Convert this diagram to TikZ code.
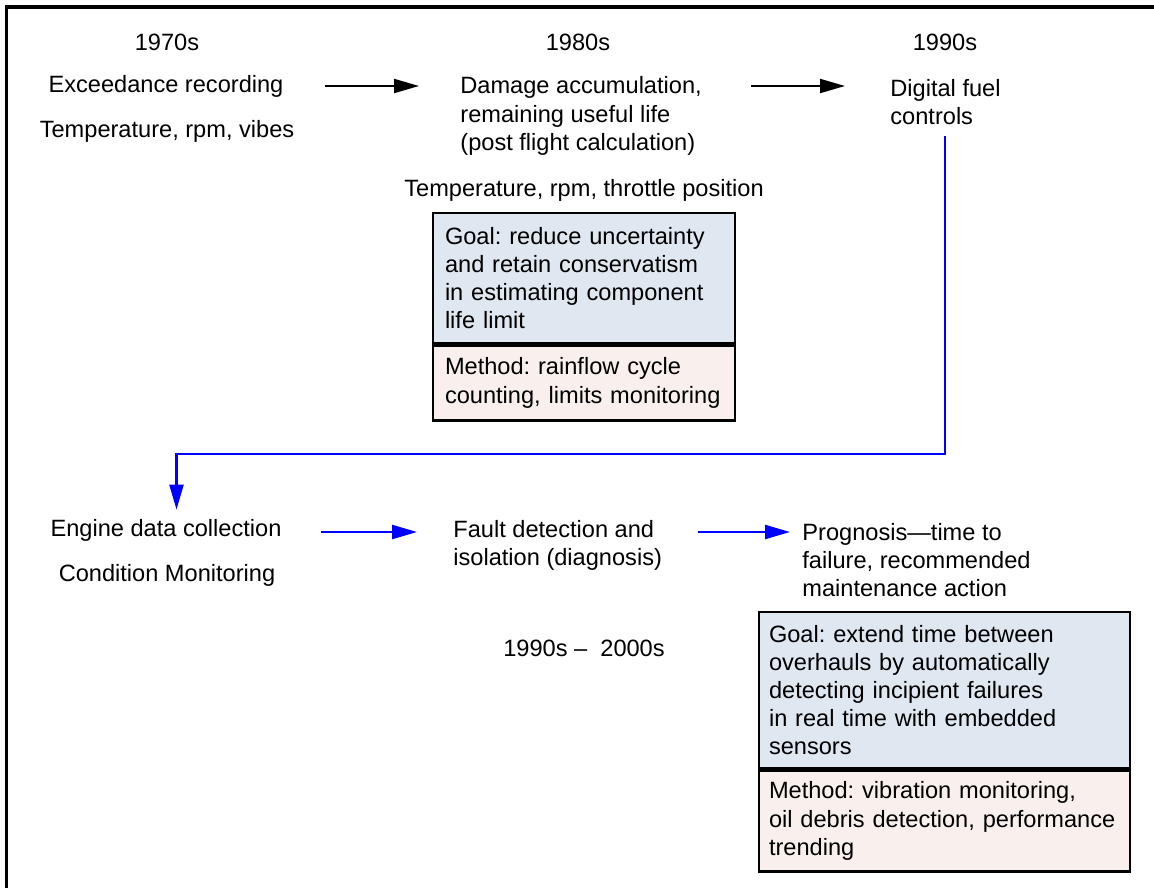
\documentclass[tikz,border=0pt]{standalone}
\usepackage{fontspec}
\setmainfont{Liberation Sans}
\usetikzlibrary{positioning,arrows.meta}
\definecolor{goalblue}{RGB}{223,231,241}
\definecolor{methpink}{RGB}{249,240,238}
\frenchspacing
\hyphenpenalty=10000

\begin{document}
\begin{tikzpicture}[x=0.5pt,y=-0.5pt,
  every node/.style={font=\fontsize{11.8}{14.1}\selectfont,inner sep=0pt},
  txt/.style={align=left,anchor=west},
  goalbox/.style={draw,line width=1.2pt,fill=goalblue,align=left,inner xsep=6pt},
  methbox/.style={goalbox,fill=methpink},
  blk/.style={-{Triangle[length=12.5pt,width=7pt]},line width=1pt},
  blu/.style={blk,blue,line width=1.2pt}]
\useasboundingbox (0,0) rectangle (1154,888);
\draw[line width=1.6pt] (6.5,888) -- (6.5,7) -- (1154,7);

% upper row
\node (y1970) at (167,42) {1970s};
\node (exceed) at (166,86) {Exceedance recording};
\node (vibes) at (167,131) {Temperature, rpm, vibes};
\node (y1980) at (578,42) {1980s};
\node[txt] (damage) at (460,116) {Damage accumulation,\\remaining useful life\\(post flight calculation)};
\node (y1990) at (945,42) {1990s};
\node[txt] (digital) at (890,102) {Digital fuel\\controls};
\node (throttle) at (584,190) {Temperature, rpm, throttle position};
\node[goalbox,text width=139pt,minimum height=65pt] (goal1) at (584,278)
  {Goal: reduce uncertainty\\and retain conservatism\\in estimating component\\life limit};
\node[methbox,text width=139pt,minimum height=37.5pt,below=0pt of goal1] (meth1)
  {Method: rainflow cycle\\counting, limits monitoring};

% lower row
\node (engine) at (166,530) {Engine data collection};
\node (cond) at (167,575) {Condition Monitoring};
\node[txt] (fault) at (453,545) {Fault detection and\\isolation (diagnosis)};
\node[txt] (prog) at (802,560) {Prognosis---time to\\failure, recommended\\maintenance action};
\node (years) at (584,648) {1990s --\ \ 2000s};
\node[goalbox,inner xsep=5pt,text width=175.5pt,minimum height=78pt] (goal2) at (944.5,690)
  {Goal: extend time between\\overhauls by automatically\\detecting incipient failures\\in real time with embedded\\sensors};
\node[methbox,inner xsep=5pt,text width=175.5pt,minimum height=50.5pt,below=0pt of goal2] (meth2)
  {Method: vibration monitoring,\\oil debris detection, performance\\trending};

\draw[blk,shorten <=20.75pt,shorten >=20.5pt] (exceed.east) -- (exceed.east -| damage.west);
\draw[blk,shorten <=24.5pt,shorten >=22.5pt] (damage.east |- exceed.east) -- (digital.west |- exceed.east);
\draw[blu,shorten <=5.5pt,shorten >=4.5pt] (y1990 |- digital.south) -- ++(0,329) -| ([xshift=5.25pt]engine.north);
\draw[blu,shorten <=19.5pt,shorten >=18pt] ([yshift=-1pt]engine.east) -- ([yshift=-1pt]engine.east -| fault.west);
\draw[blu,shorten <=18pt,shorten >=6pt] ([yshift=-1pt]fault.east |- engine.east) -- ([yshift=-1pt]prog.west |- engine.east);
\end{tikzpicture}
\end{document}
